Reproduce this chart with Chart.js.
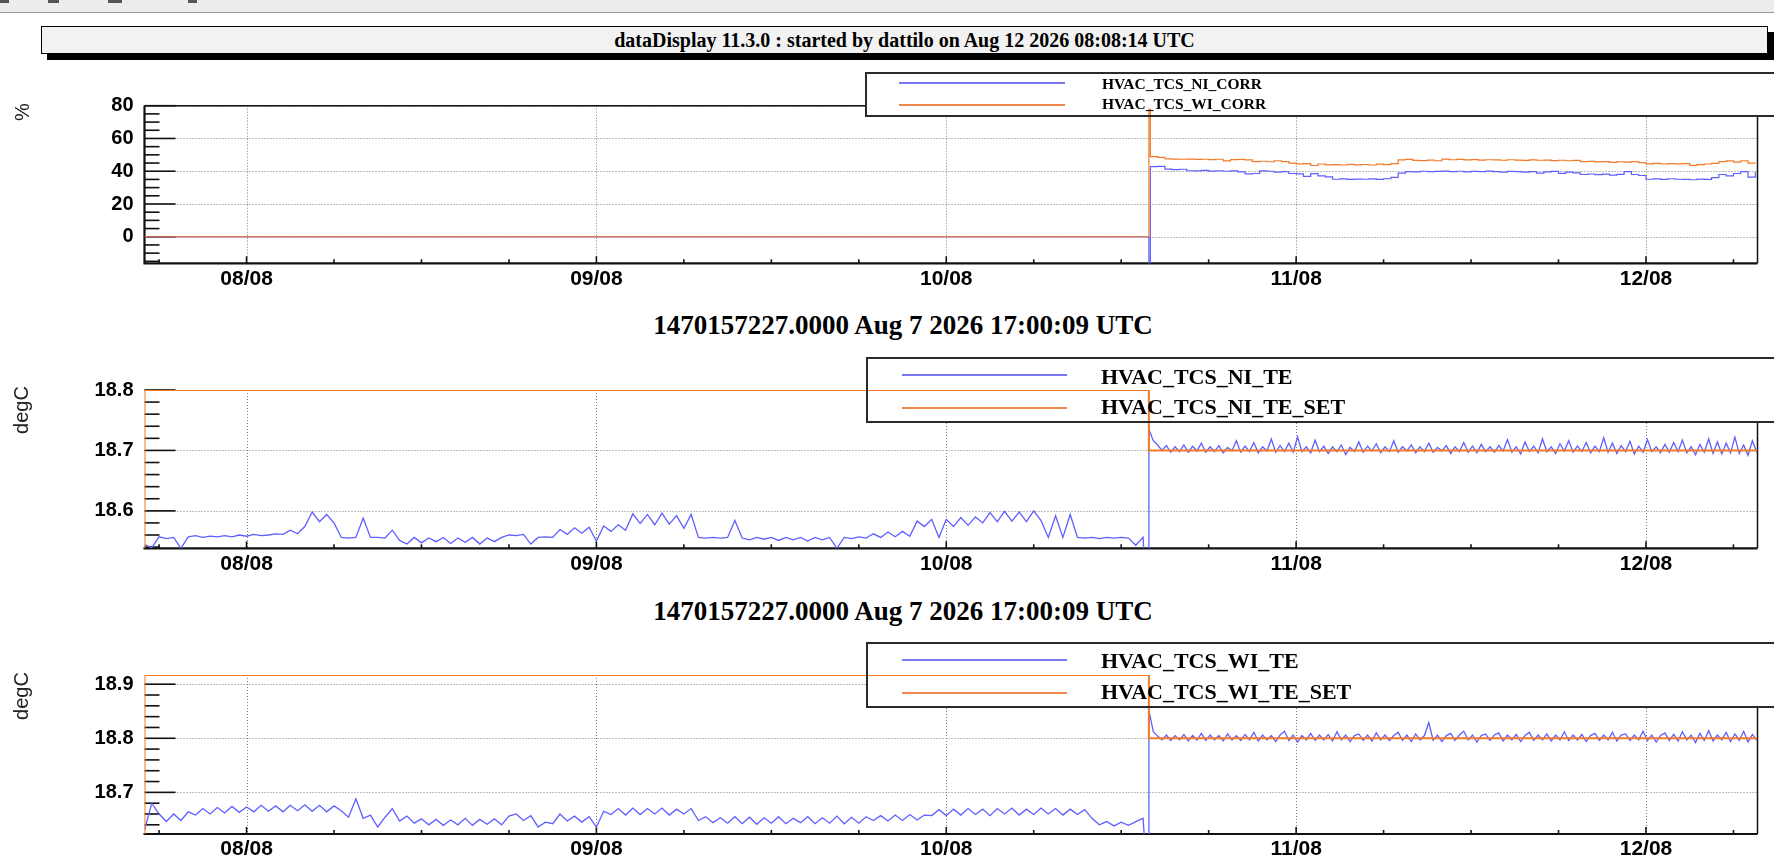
<!DOCTYPE html>
<html><head><meta charset="utf-8">
<script src="https://cdn.jsdelivr.net/npm/chart.js@4.4.1/dist/chart.umd.min.js"></script>
<style>
html,body{margin:0;padding:0;background:#fff;}
#page{position:relative;width:1774px;height:865px;overflow:hidden;background:#fff;}
.abs{position:absolute;}
#menubar{left:0;top:0;width:1774px;height:12px;background:#ececec;border-bottom:1px solid #9a9a9a;}
.mk{position:absolute;top:0px;height:3px;background:#555;}
#titlebox{left:41px;top:26px;width:1725px;height:26px;background:#f2f2f2;border:1px solid #000;box-shadow:6px 6px 0 #000;font:bold 20px 'Liberation Serif',serif;text-align:center;line-height:27px;color:#000;white-space:nowrap;}
.sub{left:403px;width:1000px;text-align:center;font:bold 27px/1 'Liberation Serif',serif;color:#000;transform:translateY(-50%);white-space:nowrap;}
.ytitle{font:20px/1 'Liberation Sans',sans-serif;color:#222;transform:translate(-50%,-50%) rotate(-90deg);white-space:nowrap;}
.legend{width:960px;border:2px solid #2a2a2a;box-sizing:border-box;background:transparent;}
.lline{position:absolute;height:2px;}
.ltext{position:absolute;font-weight:bold;font-family:'Liberation Serif',serif;line-height:1;white-space:nowrap;transform:translateY(-50%);color:#000;}
canvas{position:absolute;left:0;}
</style>
</head>
<body>
<div id="page">
  <div id="menubar" class="abs">
    <div class="mk" style="left:0px;width:9px"></div>
    <div class="mk" style="left:48px;width:11px"></div>
    <div class="mk" style="left:108px;width:14px"></div>
    <div class="mk" style="left:188px;width:9px"></div>
  </div>
  <div id="titlebox" class="abs">dataDisplay 11.3.0 : started by dattilo on Aug 12 2026 08:08:14 UTC</div>

  <canvas id="c1" width="1774" height="240" style="top:60px"></canvas>
  <canvas id="c2" width="1774" height="230" style="top:350px"></canvas>
  <canvas id="c3" width="1774" height="225" style="top:640px"></canvas>

  <div class="abs ytitle" style="left:22px;top:112px">%</div>
  <div class="abs ytitle" style="left:21px;top:410px">degC</div>
  <div class="abs ytitle" style="left:21px;top:696px">degC</div>

  <div class="abs sub" style="top:325px">1470157227.0000 Aug 7 2026 17:00:09 UTC</div>
  <div class="abs sub" style="top:611px">1470157227.0000 Aug 7 2026 17:00:09 UTC</div>

  <div class="abs legend" style="left:865px;top:72px;height:45px"></div>
  <div class="lline" style="left:899px;top:82px;width:166px;background:#7878f2"></div>
  <div class="lline" style="left:899px;top:104px;width:166px;background:#f0894a"></div>
  <div class="ltext" style="left:1102px;top:84px;font-size:15.5px">HVAC_TCS_NI_CORR</div>
  <div class="ltext" style="left:1102px;top:104px;font-size:15.5px">HVAC_TCS_WI_CORR</div>

  <div class="abs legend" style="left:866px;top:357px;height:66px"></div>
  <div class="lline" style="left:902px;top:374px;width:165px;background:#7878f2"></div>
  <div class="lline" style="left:902px;top:407px;width:165px;background:#f0894a"></div>
  <div class="ltext" style="left:1101px;top:377px;font-size:22px">HVAC_TCS_NI_TE</div>
  <div class="ltext" style="left:1101px;top:407px;font-size:22px">HVAC_TCS_NI_TE_SET</div>

  <div class="abs legend" style="left:866px;top:642px;height:66px"></div>
  <div class="lline" style="left:902px;top:659px;width:165px;background:#7878f2"></div>
  <div class="lline" style="left:902px;top:692px;width:165px;background:#f0894a"></div>
  <div class="ltext" style="left:1101px;top:661px;font-size:22px">HVAC_TCS_WI_TE</div>
  <div class="ltext" style="left:1101px;top:692px;font-size:22px">HVAC_TCS_WI_TE_SET</div>
</div>

<script>
// ---------------- DATA (time in hours from 08/08 00:00 UTC) ----------------
const T_START = -7.0;          // Aug 7 2026 17:00:09 UTC
const T_END = 103.65;
const T_STEP_CHANGE = 61.9;    // Aug 10 ~13:54 UTC

const DAY_TICKS = [0, 24, 48, 72, 96];
const DAY_LABELS = ['08/08', '09/08', '10/08', '11/08', '12/08'];

const P1_YTICKS = [0, 20, 40, 60, 80];
const P1_YLABELS = ['0', '20', '40', '60', '80'];
const P2_YTICKS = [18.6, 18.7, 18.8];
const P2_YLABELS = ['18.6', '18.7', '18.8'];
const P3_YTICKS = [18.7, 18.8, 18.9];
const P3_YLABELS = ['18.7', '18.8', '18.9'];

const PRE_GRID = { start: -7.0, step: 0.5 };
const POST_GRID = { start: 61.9, step: 0.3 };
const CORR_GRID = { start: 62.0, step: 0.5 };

// Panel 1 : HVAC_TCS_NI_CORR / HVAC_TCS_WI_CORR (%)
const CORR_PRE_TIMES = [-7.0, 61.9];
const NI_CORR_PRE = [0, 0];
const WI_CORR_PRE = [0, 0];
const NI_CORR_DROP = -40;
const WI_CORR_SPIKE = 77.7;
const NI_CORR_POST = [
  42.8, 43.0, 41.3, 41.0, 41.2, 40.3, 40.2, 40.5, 40.1, 40.3,
  40.0, 40.2, 39.6, 38.4, 38.6, 40.2, 40.0, 39.5, 39.8, 38.6,
  38.4, 36.9, 38.5, 37.2, 36.5, 35.1, 35.3, 35.0, 35.2, 35.1,
  35.3, 35.0, 35.4, 36.2, 38.9, 39.8, 39.6, 40.0, 39.7, 39.9,
  40.1, 39.8, 40.0, 39.6, 39.9, 39.7, 40.1, 39.8, 39.5, 39.9,
  39.7, 39.4, 39.8, 38.8, 39.6, 39.9, 38.7, 39.5, 39.0, 38.0,
  38.3, 37.9, 38.2, 37.6, 38.1, 39.7, 38.0, 37.4, 35.1, 35.3,
  35.0, 35.4, 35.1, 35.0, 34.8, 35.2, 35.0, 36.1, 38.0, 37.2,
  38.6, 39.8, 36.4, 39.6
];
const WI_CORR_POST = [
  48.9, 48.4, 47.6, 47.4, 47.3, 47.4, 47.2, 47.3, 47.1, 47.3,
  46.3, 47.1, 47.2, 46.9, 45.9, 46.1, 45.8, 46.4, 45.9, 45.0,
  44.5, 44.7, 43.5, 44.4, 43.9, 44.0, 43.8, 44.2, 43.9, 44.1,
  43.8, 44.3, 44.0, 44.6, 46.9, 47.2, 46.6, 46.5, 46.8, 46.4,
  47.4, 47.0, 47.2, 46.9, 47.1, 46.8, 47.0, 46.9, 46.7, 47.0,
  46.8, 46.6, 46.9, 46.7, 46.8, 46.5, 46.7, 46.4, 46.6, 45.9,
  46.0, 45.7, 45.9, 45.4, 45.8, 45.5, 45.9, 45.3, 44.5, 44.8,
  44.4, 44.6, 44.5, 44.7, 43.6, 44.0, 44.4, 44.8, 45.9, 46.3,
  45.6, 46.4, 45.0, 44.8
];

// Panel 2 : HVAC_TCS_NI_TE / HVAC_TCS_NI_TE_SET (degC)
const NI_TE_PRE = [
  18.544, 18.539, 18.557, 18.554, 18.556, 18.538, 18.557, 18.559, 18.556, 18.558,
  18.557, 18.559, 18.557, 18.560, 18.558, 18.561, 18.559, 18.560, 18.562, 18.561,
  18.568, 18.562, 18.574, 18.598, 18.582, 18.594, 18.580, 18.556, 18.555, 18.556,
  18.588, 18.556, 18.556, 18.555, 18.568, 18.551, 18.545, 18.556, 18.547, 18.555,
  18.549, 18.556, 18.546, 18.555, 18.548, 18.556, 18.545, 18.555, 18.549, 18.556,
  18.560, 18.559, 18.561, 18.545, 18.556, 18.557, 18.556, 18.569, 18.561, 18.572,
  18.563, 18.573, 18.550, 18.575, 18.566, 18.577, 18.568, 18.595, 18.579, 18.594,
  18.577, 18.596, 18.578, 18.592, 18.571, 18.594, 18.556, 18.555, 18.556, 18.555,
  18.556, 18.584, 18.555, 18.552, 18.556, 18.553, 18.556, 18.551, 18.556, 18.552,
  18.556, 18.550, 18.556, 18.552, 18.556, 18.538, 18.556, 18.554, 18.557, 18.555,
  18.562, 18.556, 18.565, 18.557, 18.566, 18.558, 18.583, 18.574, 18.586, 18.556,
  18.586, 18.574, 18.589, 18.576, 18.590, 18.580, 18.597, 18.582, 18.599, 18.583,
  18.598, 18.582, 18.600, 18.584, 18.556, 18.592, 18.556, 18.594, 18.556, 18.555,
  18.556, 18.554, 18.556, 18.555, 18.556, 18.555, 18.543, 18.556
];
const NI_TE_DROP = 18.40;
const NI_TE_POST = [
  18.735, 18.716, 18.709, 18.700, 18.708, 18.697, 18.706, 18.698, 18.709, 18.697,
  18.707, 18.699, 18.712, 18.697, 18.706, 18.698, 18.708, 18.696, 18.705, 18.699,
  18.716, 18.697, 18.707, 18.698, 18.713, 18.696, 18.706, 18.699, 18.719, 18.697,
  18.708, 18.698, 18.712, 18.697, 18.722, 18.698, 18.706, 18.696, 18.717, 18.698,
  18.707, 18.695, 18.706, 18.698, 18.709, 18.693, 18.705, 18.698, 18.714, 18.697,
  18.707, 18.699, 18.711, 18.696, 18.706, 18.698, 18.716, 18.697, 18.706, 18.699,
  18.709, 18.696, 18.706, 18.698, 18.712, 18.697, 18.705, 18.699, 18.708, 18.695,
  18.706, 18.698, 18.713, 18.697, 18.707, 18.696, 18.710, 18.698, 18.706, 18.697,
  18.708, 18.699, 18.718, 18.697, 18.706, 18.694, 18.714, 18.698, 18.707, 18.696,
  18.719, 18.698, 18.706, 18.695, 18.711, 18.699, 18.716, 18.697, 18.707, 18.698,
  18.713, 18.696, 18.707, 18.698, 18.721, 18.697, 18.712, 18.695, 18.708, 18.698,
  18.715, 18.694, 18.707, 18.697, 18.718, 18.698, 18.706, 18.696, 18.710, 18.697,
  18.713, 18.698, 18.717, 18.696, 18.706, 18.693, 18.710, 18.697, 18.719, 18.695,
  18.714, 18.694, 18.712, 18.696, 18.722, 18.695, 18.709, 18.692, 18.716, 18.697
];
const SET_TIMES = [-7.0, -7.0, 61.9, 103.65];
const NI_TE_SET = [18.40, 18.8, 18.7, 18.7];

// Panel 3 : HVAC_TCS_WI_TE / HVAC_TCS_WI_TE_SET (degC)
const WI_TE_PRE = [
  18.630, 18.680, 18.660, 18.646, 18.660, 18.648, 18.664, 18.658, 18.670, 18.660,
  18.672, 18.662, 18.674, 18.663, 18.673, 18.664, 18.676, 18.665, 18.675, 18.664,
  18.676, 18.666, 18.677, 18.665, 18.676, 18.664, 18.675, 18.666, 18.654, 18.688,
  18.652, 18.658, 18.636, 18.654, 18.670, 18.647, 18.656, 18.643, 18.651, 18.640,
  18.650, 18.639, 18.649, 18.640, 18.652, 18.639, 18.650, 18.641, 18.651, 18.640,
  18.656, 18.660, 18.648, 18.657, 18.636, 18.645, 18.642, 18.660, 18.647, 18.656,
  18.645, 18.655, 18.636, 18.665, 18.659, 18.670, 18.658, 18.671, 18.659, 18.670,
  18.660, 18.671, 18.658, 18.669, 18.660, 18.670, 18.648, 18.655, 18.644, 18.653,
  18.643, 18.655, 18.642, 18.654, 18.641, 18.653, 18.643, 18.655, 18.642, 18.652,
  18.644, 18.655, 18.642, 18.653, 18.643, 18.656, 18.642, 18.654, 18.643, 18.655,
  18.648, 18.657, 18.647, 18.658, 18.648, 18.659, 18.649, 18.658, 18.657, 18.668,
  18.657, 18.669, 18.658, 18.670, 18.659, 18.669, 18.657, 18.670, 18.660, 18.671,
  18.658, 18.669, 18.659, 18.671, 18.660, 18.670, 18.658, 18.669, 18.659, 18.668,
  18.652, 18.640, 18.646, 18.638, 18.645, 18.639, 18.646, 18.652
];
const WI_TE_DROP = 18.50;
const WI_TE_POST = [
  18.852, 18.812, 18.804, 18.797, 18.806, 18.796, 18.805, 18.797, 18.807, 18.795,
  18.805, 18.797, 18.809, 18.796, 18.806, 18.797, 18.805, 18.795, 18.808, 18.797,
  18.805, 18.796, 18.807, 18.797, 18.811, 18.795, 18.806, 18.797, 18.805, 18.794,
  18.806, 18.813, 18.796, 18.806, 18.793, 18.805, 18.797, 18.809, 18.796, 18.806,
  18.797, 18.807, 18.795, 18.812, 18.797, 18.806, 18.794, 18.805, 18.808, 18.796,
  18.806, 18.795, 18.810, 18.797, 18.806, 18.796, 18.805, 18.811, 18.796, 18.806,
  18.794, 18.808, 18.797, 18.805, 18.829, 18.796, 18.806, 18.794, 18.805, 18.809,
  18.796, 18.806, 18.813, 18.797, 18.806, 18.793, 18.805, 18.808, 18.796, 18.806,
  18.810, 18.795, 18.806, 18.797, 18.807, 18.794, 18.805, 18.811, 18.796, 18.806,
  18.797, 18.808, 18.795, 18.806, 18.797, 18.812, 18.796, 18.806, 18.797, 18.807,
  18.794, 18.805, 18.809, 18.796, 18.806, 18.797, 18.811, 18.795, 18.806, 18.808,
  18.796, 18.806, 18.797, 18.813, 18.796, 18.806, 18.793, 18.805, 18.810, 18.796,
  18.807, 18.795, 18.812, 18.797, 18.806, 18.792, 18.809, 18.796, 18.814, 18.795,
  18.806, 18.797, 18.811, 18.794, 18.808, 18.796, 18.813, 18.793, 18.807, 18.796
];
const WI_TE_SET = [18.50, 18.917, 18.8, 18.8];

// ---------------- helpers ----------------
const BLUE = '#5f5fff';
const ORANGE = '#f27a28';
const gridSeries = (g, vals) => vals.map((v, i) => ({ x: g.start + i * g.step, y: v }));
const pairSeries = (ts, vals) => ts.map((t, i) => ({ x: t, y: vals[i] }));

function minorTicks(min, max, step, majors) {
  const out = [];
  for (let k = Math.ceil(min / step - 1e-9); k <= Math.floor(max / step + 1e-9); k++) {
    const v = k * step;
    if (!majors.some(m => Math.abs(m - v) < step / 10)) out.push(v);
  }
  return out;
}

const rootFrame = {
  id: 'rootFrame',
  beforeDatasetsDraw(chart, args, o) {
    const { ctx, chartArea: a, scales: { x, y } } = chart;
    const ln = (x1, y1, x2, y2) => { ctx.beginPath(); ctx.moveTo(x1, y1); ctx.lineTo(x2, y2); ctx.stroke(); };
    ctx.save();
    ctx.strokeStyle = '#7d7d7d'; ctx.lineWidth = 1; ctx.setLineDash([1, 2]);
    o.yMajor.forEach(v => { const p = Math.round(y.getPixelForValue(v)) + 0.5; ln(a.left, p, a.right, p); });
    o.xMajor.forEach(v => { const p = Math.round(x.getPixelForValue(v)) + 0.5; ln(p, a.top, p, a.bottom); });
    ctx.setLineDash([]);
    ctx.strokeStyle = '#111'; ctx.lineWidth = 1.6;
    o.yMinor.forEach(v => { const p = y.getPixelForValue(v); ln(a.left, p, a.left + 15, p); });
    o.yMajor.forEach(v => { const p = y.getPixelForValue(v); ln(a.left, p, a.left + 31, p); });
    o.xMinor.forEach(v => { const p = x.getPixelForValue(v); ln(p, a.bottom, p, a.bottom - 4); });
    o.xMajor.forEach(v => { const p = x.getPixelForValue(v); ln(p, a.bottom, p, a.bottom - 7); });
    ctx.lineWidth = 1.5;
    ln(a.right, a.top, a.right, a.bottom);
    if (o.frameTop) ln(a.left, a.top, a.right, a.top);
    ctx.lineWidth = 2.2;
    if (o.frameLeft) ln(a.left, a.top, a.left, a.bottom);
    ln(a.left - 1, a.bottom, a.right, a.bottom);
    const L = o.legend;
    ctx.fillStyle = '#fff';
    ctx.fillRect(L.x, L.y - o.canvasTop, L.w, L.h);
    ctx.restore();
  }
};

const TICK_FONT_Y = { family: "'Liberation Sans', Arial, sans-serif", size: 20, weight: 'bold' };
const TICK_FONT_X = { family: "'Liberation Sans', Arial, sans-serif", size: 21, weight: 'bold', lineHeight: 1.2 };

function makeChart(id, p) {
  const xMinor = minorTicks(T_START, T_END, 6, DAY_TICKS);
  const yMinor = minorTicks(p.ymin, p.ymax, p.yMinorStep, p.yTicks);
  return new Chart(document.getElementById(id), {
    type: 'line',
    data: { datasets: p.datasets },
    options: {
      responsive: false, animation: false, devicePixelRatio: 1, events: [],
      layout: { padding: { top: p.padTop, right: 16.5, left: 0, bottom: 0 } },
      plugins: {
        legend: { display: false }, tooltip: { enabled: false },
        rootFrame: { yMajor: p.yTicks, yMinor, xMajor: DAY_TICKS, xMinor, legend: p.legend, canvasTop: p.canvasTop,
                     frameTop: p.frameTop, frameLeft: p.frameLeft }
      },
      elements: { point: { radius: 0 }, line: { borderWidth: 1.2, tension: 0 } },
      scales: {
        x: {
          type: 'linear', min: T_START, max: T_END,
          afterBuildTicks: s => { s.ticks = DAY_TICKS.map(v => ({ value: v })); },
          afterFit: s => { s.height = p.xHeight; },
          grid: { display: false, drawTicks: false }, border: { display: false },
          ticks: { autoSkip: false, maxRotation: 0, minRotation: 0, padding: 3, color: '#000', font: TICK_FONT_X,
                   callback: (v, i) => DAY_LABELS[i] }
        },
        y: {
          type: 'linear', min: p.ymin, max: p.ymax,
          afterBuildTicks: s => { s.ticks = p.yTicks.map(v => ({ value: v })); },
          afterFit: s => { s.width = 144.5; },
          grid: { display: false, drawTicks: false }, border: { display: false },
          ticks: { padding: 11, color: '#000', font: TICK_FONT_Y, callback: (v, i) => p.yLabels[i] }
        }
      }
    },
    plugins: [rootFrame]
  });
}

const ds = (data, color, order, stepped, width) => ({ data, borderColor: color, borderWidth: width || 1.2, stepped, pointRadius: 0, fill: false, order });

makeChart('c1', {
  canvasTop: 60, padTop: 45.7, xHeight: 36.7, frameTop: true, frameLeft: true,
  ymin: -16.2, ymax: 80, yTicks: P1_YTICKS, yLabels: P1_YLABELS, yMinorStep: 5,
  legend: { x: 865, y: 72, w: 960, h: 45 },
  datasets: [
    ds([...pairSeries(CORR_PRE_TIMES, NI_CORR_PRE), { x: T_STEP_CHANGE, y: NI_CORR_DROP }, ...gridSeries(CORR_GRID, NI_CORR_POST)], BLUE, 2, 'before'),
    ds([...pairSeries(CORR_PRE_TIMES, WI_CORR_PRE), { x: T_STEP_CHANGE, y: WI_CORR_SPIKE }, ...gridSeries(CORR_GRID, WI_CORR_POST)], ORANGE, 1, 'before')
  ]
});

makeChart('c2', {
  canvasTop: 350, padTop: 40, xHeight: 31.7, frameTop: false, frameLeft: false,
  ymin: 18.538, ymax: 18.8, yTicks: P2_YTICKS, yLabels: P2_YLABELS, yMinorStep: 0.02,
  legend: { x: 866, y: 357, w: 960, h: 66 },
  datasets: [
    ds([...gridSeries(PRE_GRID, NI_TE_PRE), { x: T_STEP_CHANGE, y: NI_TE_DROP }, ...gridSeries(POST_GRID, NI_TE_POST)], BLUE, 2, false, 1.3),
    ds(pairSeries(SET_TIMES, NI_TE_SET), ORANGE, 1, 'before', 2)
  ]
});

makeChart('c3', {
  canvasTop: 640, padTop: 35, xHeight: 31, frameTop: false, frameLeft: false,
  ymin: 18.623, ymax: 18.917, yTicks: P3_YTICKS, yLabels: P3_YLABELS, yMinorStep: 0.02,
  legend: { x: 866, y: 642, w: 960, h: 66 },
  datasets: [
    ds([...gridSeries(PRE_GRID, WI_TE_PRE), { x: T_STEP_CHANGE, y: WI_TE_DROP }, ...gridSeries(POST_GRID, WI_TE_POST)], BLUE, 2, false, 1.3),
    ds(pairSeries(SET_TIMES, WI_TE_SET), ORANGE, 1, 'before', 2)
  ]
});
</script>
</body></html>
